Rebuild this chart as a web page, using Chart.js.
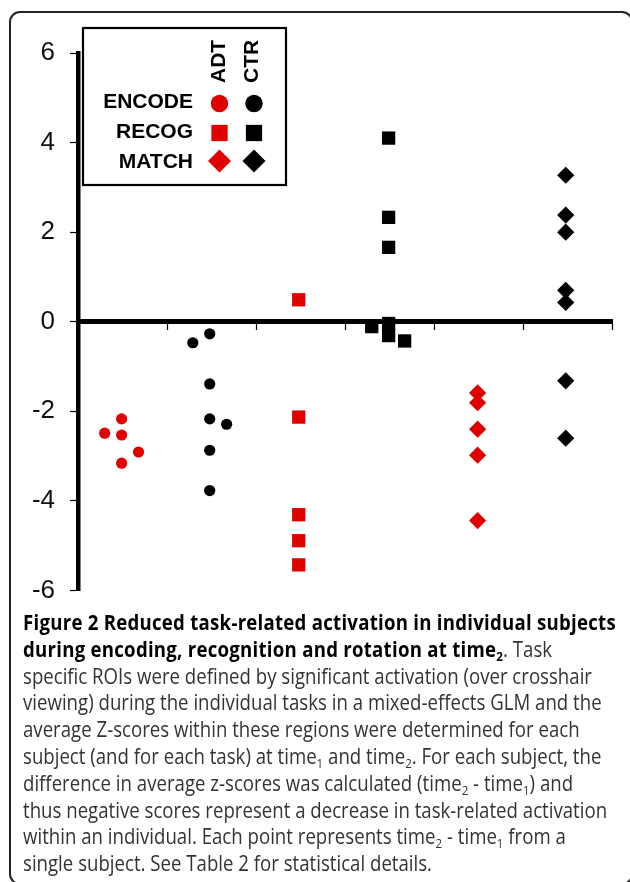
<!DOCTYPE html>
<html>
<head>
<meta charset="utf-8">
<script src="https://cdn.jsdelivr.net/npm/chart.js@4.4.1/dist/chart.umd.min.js"></script>
<style>
  html, body { margin: 0; padding: 0; background: #fff; }
  body { width: 630px; height: 882px; position: relative; overflow: hidden; }
  #frame { position: absolute; left: 9px; top: 11px; width: 624px; height: 874px;
           border: 2px solid #222; border-radius: 11px; box-sizing: border-box; }
  #chartBox { position: absolute; left: 0; top: 0; width: 630px; height: 621px; }
  #caption { position: absolute; left: 23px; top: 609px; font-family: "Open Sans", sans-serif;
             font-size: 21px; line-height: 26.8px; color: #333; transform-origin: 0 0; white-space: nowrap; }
  #caption .ln { display: block; height: 26.8px; }
  #caption .t { display: inline; }
  #caption b { color: #000; font-weight: 700; }
  #caption sub { font-size: 0.62em; line-height: 0; vertical-align: -0.3em; }
</style>
</head>
<body>
<div id="frame"></div>
<div id="chartBox"><canvas id="c" width="630" height="621"></canvas></div>
<div id="caption">
  <span class="ln"><span class="t" id="line1"><b>Figure 2 Reduced task-related activation in individual subjects</b></span></span>
  <span class="ln"><span class="t"><b>during encoding, recognition and rotation at time<sub>2</sub></b>. Task</span></span>
  <span class="ln"><span class="t" id="line3">specific ROIs were defined by significant activation (over crosshair</span></span>
  <span class="ln"><span class="t">viewing) during the individual tasks in a mixed-effects GLM and the</span></span>
  <span class="ln"><span class="t">average Z-scores within these regions were determined for each</span></span>
  <span class="ln"><span class="t">subject (and for each task) at time<sub>1</sub> and time<sub>2</sub>. For each subject, the</span></span>
  <span class="ln"><span class="t">difference in average z-scores was calculated (time<sub>2</sub> - time<sub>1</sub>) and</span></span>
  <span class="ln"><span class="t">thus negative scores represent a decrease in task-related activation</span></span>
  <span class="ln"><span class="t">within an individual. Each point represents time<sub>2</sub> - time<sub>1</sub> from a</span></span>
  <span class="ln"><span class="t">single subject. See Table 2 for statistical details.</span></span>
</div>
<script>
// ---- data ----
const tasks = ['ENCODE', 'RECOG', 'MATCH'];
const groups = ['ADT', 'CTR'];
const yTicks = [6, 4, 2, 0, -2, -4, -6];

const adtEncodeX = [0.49, 0.30, 0.49, 0.68, 0.49];
const adtEncodeY = [-2.17, -2.49, -2.53, -2.91, -3.16];

const ctrEncodeX = [1.29, 1.48, 1.48, 1.48, 1.67, 1.48, 1.48];
const ctrEncodeY = [-0.47, -0.27, -1.39, -2.17, -2.29, -2.87, -3.77];

const adtRecogX = [2.48, 2.48, 2.48, 2.48, 2.48];
const adtRecogY = [0.49, -2.13, -4.31, -4.89, -5.43];

const ctrRecogX = [3.49, 3.49, 3.49, 3.30, 3.49, 3.49, 3.67];
const ctrRecogY = [4.10, 2.33, 1.66, -0.11, -0.04, -0.31, -0.43];

const adtMatchX = [4.49, 4.49, 4.49, 4.49, 4.49];
const adtMatchY = [-1.59, -1.81, -2.40, -2.98, -4.44];

const ctrMatchX = [5.48, 5.48, 5.48, 5.48, 5.48, 5.48, 5.48];
const ctrMatchY = [3.27, 2.38, 2.00, 0.70, 0.43, -1.32, -2.60];

// ---- styles ----
const RED = '#E00000';
const BLACK = '#000000';
const styleFor = {
  ENCODE: { pointStyle: 'circle', radius: 5.6, legendRadius: 8.7 },
  RECOG:  { pointStyle: 'rect',   radius: 9.4, legendRadius: 11.5 },
  MATCH:  { pointStyle: 'rectRot', radius: 8.6, legendRadius: 11.5 }
};
const groupColor = { ADT: RED, CTR: BLACK };

function pts(xs, ys) { return xs.map((x, i) => ({ x: x, y: ys[i] })); }
function ds(group, task, xs, ys) {
  const s = styleFor[task];
  return {
    label: group + ' ' + task, group: group, task: task,
    data: pts(xs, ys),
    pointStyle: s.pointStyle, pointRadius: s.radius,
    backgroundColor: groupColor[group], borderColor: groupColor[group], borderWidth: 0,
    showLine: false, clip: false
  };
}

const datasets = [
  ds('ADT', 'ENCODE', adtEncodeX, adtEncodeY),
  ds('CTR', 'ENCODE', ctrEncodeX, ctrEncodeY),
  ds('ADT', 'RECOG', adtRecogX, adtRecogY),
  ds('CTR', 'RECOG', ctrRecogX, ctrRecogY),
  ds('ADT', 'MATCH', adtMatchX, adtMatchY),
  ds('CTR', 'MATCH', ctrMatchX, ctrMatchY)
];

// custom legend: group names rotated as column headers, task names as row labels
const boxLegend = {
  id: 'boxLegend',
  afterDatasetsDraw(chart) {
    const ctx = chart.ctx;
    ctx.save();
    ctx.fillStyle = '#fff';
    ctx.fillRect(83, 28, 203, 157);
    ctx.lineWidth = 2.2;
    ctx.strokeStyle = '#000';
    ctx.strokeRect(83, 28, 203, 157);

    const colX = { ADT: 219.5, CTR: 254 };
    const colTextX = { ADT: 225, CTR: 258 };
    const rowY = { ENCODE: 103.5, RECOG: 133, MATCH: 161 };
    const rowBase = { ENCODE: 108, RECOG: 138, MATCH: 168 };

    ctx.fillStyle = '#000';
    ctx.font = 'bold 21px "Liberation Sans", Arial, sans-serif';
    groups.forEach(g => {
      ctx.save();
      ctx.translate(colTextX[g], 83);
      ctx.rotate(-Math.PI / 2);
      ctx.textAlign = 'left';
      ctx.textBaseline = 'alphabetic';
      ctx.fillText(g, 0, 0);
      ctx.restore();
    });
    ctx.textAlign = 'right';
    ctx.textBaseline = 'alphabetic';
    tasks.forEach(t => ctx.fillText(t, 193, rowBase[t]));

    chart.data.datasets.forEach(d => {
      const opts = { pointStyle: d.pointStyle, radius: styleFor[d.task].legendRadius, borderWidth: 0, rotation: 0 };
      ctx.fillStyle = d.backgroundColor;
      ctx.strokeStyle = d.borderColor;
      ctx.lineWidth = 0;
      Chart.helpers.drawPoint(ctx, opts, colX[d.group], rowY[d.task]);
    });
    ctx.restore();
  }
};

new Chart(document.getElementById('c'), {
  type: 'scatter',
  data: { datasets: datasets },
  plugins: [boxLegend],
  options: {
    responsive: false,
    animation: false,
    events: [],
    layout: { padding: { left: 0, top: 53, right: 18, bottom: 11 } },
    plugins: { legend: { display: false }, tooltip: { enabled: false } },
    scales: {
      x: {
        type: 'linear', min: 0, max: 6,
        position: { y: 0 },
        afterFit(scale) { scale.height = 0; },
        ticks: { display: false, stepSize: 1 },
        grid: { drawOnChartArea: false, drawTicks: true, tickLength: 6, tickWidth: 1.2, tickColor: '#000' },
        border: { display: true, width: 5, color: '#000' }
      },
      y: {
        type: 'linear', min: -6, max: 6,
        position: 'left',
        afterFit(scale) { scale.width = 78; },
        afterBuildTicks(scale) { scale.ticks = yTicks.map(v => ({ value: v })); },
        ticks: { color: '#111', padding: 15, font: { family: '"Liberation Sans", Arial, sans-serif', size: 26 },
                 callback: v => String(v) },
        grid: { drawOnChartArea: false, drawTicks: true, tickLength: 8, tickWidth: 1.2, tickColor: '#000' },
        border: { display: true, width: 4.5, color: '#000' }
      }
    }
  }
});

// squeeze the caption horizontally so its lines break where the reference's do
function fitCaption() {
  const cap = document.getElementById('caption');
  cap.style.transform = 'none';
  const bolds = cap.querySelectorAll('b');
  bolds.forEach(b => b.style.letterSpacing = '0px');
  const w3 = document.getElementById('line3').getBoundingClientRect().width;
  const k = 569 / w3;
  const w1 = document.getElementById('line1').getBoundingClientRect().width;
  const n1 = document.getElementById('line1').textContent.length;
  const ls = (593 / k - w1) / n1;
  bolds.forEach(b => b.style.letterSpacing = ls.toFixed(3) + 'px');
  cap.style.transform = 'scaleX(' + k.toFixed(4) + ')';
}
fitCaption();
if (document.fonts && document.fonts.ready) document.fonts.ready.then(fitCaption);
</script>
</body>
</html>
